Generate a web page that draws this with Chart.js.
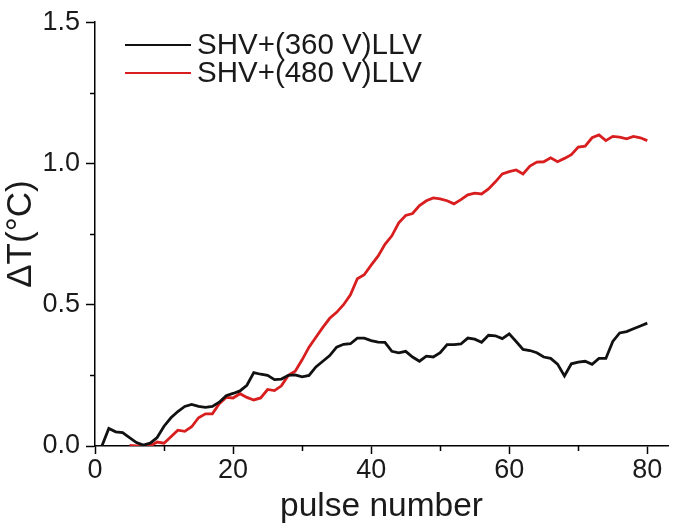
<!DOCTYPE html>
<html>
<head>
<meta charset="utf-8">
<script src="https://cdn.jsdelivr.net/npm/chart.js@4.4.1/dist/chart.umd.min.js"></script>
<style>
  html, body { margin: 0; padding: 0; background: #fff; }
  #wrap { width: 685px; height: 530px; }
</style>
</head>
<body>
<div id="wrap"><canvas id="myChart" width="685" height="530"></canvas></div>
<script>
// pulse numbers 1..80
const pulses = [];
for (let i = 1; i <= 80; i++) pulses.push(i);

const labels = ['SHV+(360 V)LLV', 'SHV+(480 V)LLV'];

// black curve, 360 V
const dt360 = [
  0.000, 0.062, 0.050, 0.047, 0.030, 0.012, 0.003, 0.010, 0.030, 0.070,
  0.100, 0.122, 0.140, 0.147, 0.140, 0.137, 0.140, 0.155, 0.178, 0.186,
  0.195, 0.215, 0.260, 0.254, 0.250, 0.235, 0.237, 0.250, 0.252, 0.245,
  0.250, 0.280, 0.300, 0.320, 0.350, 0.360, 0.362, 0.382, 0.382, 0.373,
  0.368, 0.367, 0.335, 0.330, 0.335, 0.315, 0.300, 0.318, 0.315, 0.330,
  0.359, 0.359, 0.361, 0.382, 0.378, 0.367, 0.392, 0.390, 0.380, 0.397,
  0.370, 0.342, 0.338, 0.330, 0.315, 0.310, 0.290, 0.248, 0.291, 0.297,
  0.300, 0.289, 0.310, 0.310, 0.370, 0.400, 0.405, 0.415, 0.425, 0.435
];

// red curve, 480 V (starts at pulse 5)
const dt480 = [
  null, null, null, null, 0.002, 0.000, 0.000, 0.000, 0.014, 0.010,
  0.033, 0.056, 0.052, 0.068, 0.100, 0.114, 0.114, 0.150, 0.172, 0.170,
  0.185, 0.172, 0.163, 0.170, 0.200, 0.196, 0.213, 0.250, 0.265, 0.305,
  0.350, 0.385, 0.420, 0.452, 0.473, 0.500, 0.535, 0.592, 0.606, 0.640,
  0.672, 0.714, 0.744, 0.790, 0.816, 0.823, 0.851, 0.868, 0.878, 0.875,
  0.868, 0.857, 0.872, 0.889, 0.895, 0.892, 0.910, 0.935, 0.963, 0.971,
  0.977, 0.963, 0.991, 1.005, 1.006, 1.020, 1.006, 1.018, 1.031, 1.058,
  1.061, 1.091, 1.101, 1.081, 1.096, 1.093, 1.087, 1.096, 1.091, 1.081
];

const xMinorTicks = [10, 30, 50, 70];
const yMinorTicks = [0.25, 0.75, 1.25];

const FONT = "'Liberation Sans', Arial, sans-serif";
const colors = ['#111111', '#d81e1e'];

function toPoints(ys) {
  const pts = [];
  for (let i = 0; i < pulses.length; i++) {
    pts.push({ x: pulses[i], y: ys[i] });
  }
  return pts;
}

// short minor ticks, like the Origin axes
const minorTicks = {
  id: 'minorTicks',
  afterDraw(chart) {
    const c = chart.ctx;
    const xs = chart.scales.x, ys = chart.scales.y;
    const area = chart.chartArea;
    c.save();
    c.strokeStyle = '#000';
    c.lineWidth = 1.5;
    c.beginPath();
    xMinorTicks.forEach(v => {
      const px = Math.round(xs.getPixelForValue(v)) + 0.5;
      c.moveTo(px, area.bottom);
      c.lineTo(px, area.bottom + 5);
    });
    yMinorTicks.forEach(v => {
      const py = Math.round(ys.getPixelForValue(v)) + 0.5;
      c.moveTo(area.left, py);
      c.lineTo(area.left - 5, py);
    });
    c.stroke();
    c.restore();
  }
};

// legend inside the plot, top left
const insideLegend = {
  id: 'insideLegend',
  afterDraw(chart) {
    const c = chart.ctx;
    c.save();
    c.font = '29.5px ' + FONT;
    c.textBaseline = 'middle';
    chart.data.datasets.forEach((ds, i) => {
      const y = 45 + i * 28;
      c.strokeStyle = ds.borderColor;
      c.lineWidth = 2;
      c.beginPath();
      c.moveTo(125, y);
      c.lineTo(191, y);
      c.stroke();
      c.fillStyle = '#1a1a1a';
      c.fillText(ds.label, 197, y + 1);
    });
    c.restore();
  }
};

const ctx = document.getElementById('myChart').getContext('2d');

const myChart = new Chart(ctx, {
  type: 'line',
  data: {
    datasets: [
      {
        label: labels[0],
        data: toPoints(dt360),
        borderColor: colors[0],
        borderWidth: 2.8,
        pointRadius: 0,
        tension: 0,
        fill: false
      },
      {
        label: labels[1],
        data: toPoints(dt480),
        borderColor: colors[1],
        borderWidth: 2.8,
        pointRadius: 0,
        tension: 0,
        fill: false,
        spanGaps: false
      }
    ]
  },
  options: {
    responsive: false,
    animation: false,
    layout: { padding: { top: 18, right: 17, left: 0, bottom: 0 } },
    plugins: {
      legend: { display: false },
      tooltip: { enabled: false }
    },
    scales: {
      x: {
        type: 'linear',
        min: 0,
        max: 83,
        afterFit(scale) { scale.height = 84; },
        afterBuildTicks(scale) {
          scale.ticks = [0, 20, 40, 60, 80].map(v => ({ value: v }));
        },
        border: { color: '#000', width: 1.5 },
        grid: {
          drawOnChartArea: false,
          drawTicks: true,
          tickLength: 8,
          tickColor: '#000',
          tickWidth: 1.5
        },
        ticks: {
          color: '#1a1a1a',
          font: { family: FONT, size: 27 },
          padding: 0,
          maxRotation: 0
        },
        title: {
          display: true,
          text: 'pulse number',
          color: '#1a1a1a',
          font: { family: FONT, size: 33.5 },
          padding: { top: 0, bottom: 3 }
        }
      },
      y: {
        min: 0,
        max: 1.5,
        afterFit(scale) { scale.width = 95; },
        afterBuildTicks(scale) {
          scale.ticks = [0, 0.5, 1.0, 1.5].map(v => ({ value: v }));
        },
        border: { color: '#000', width: 1.5 },
        grid: {
          drawOnChartArea: false,
          drawTicks: true,
          tickLength: 9,
          tickColor: '#000',
          tickWidth: 1.5
        },
        ticks: {
          color: '#1a1a1a',
          font: { family: FONT, size: 27 },
          padding: 6,
          callback: v => v.toFixed(1)
        },
        title: {
          display: true,
          text: 'ΔT(°C)',
          color: '#1a1a1a',
          font: { family: FONT, size: 35 },
          padding: { top: 0, bottom: 0 }
        }
      }
    }
  },
  plugins: [minorTicks, insideLegend]
});
</script>
</body>
</html>
